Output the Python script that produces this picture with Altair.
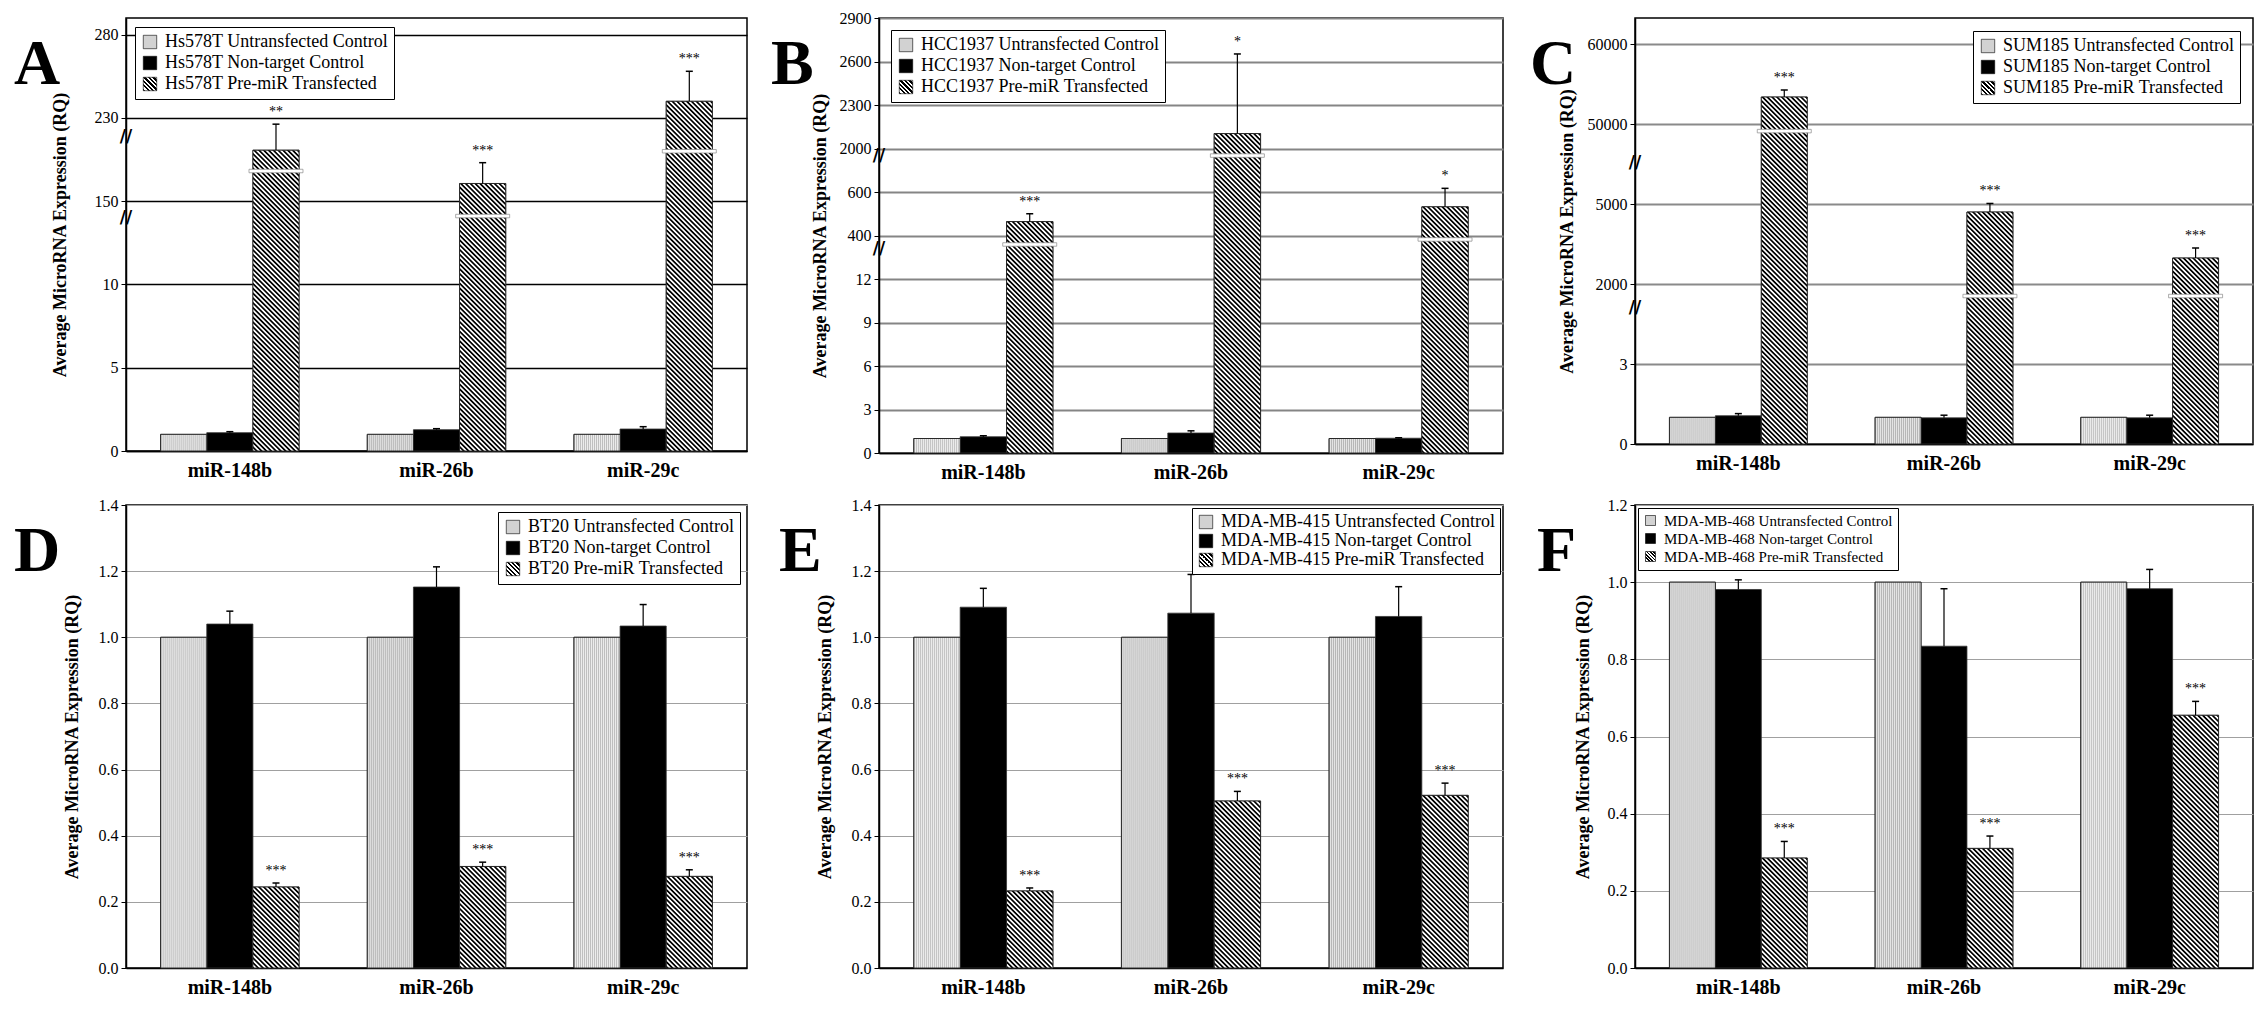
import base64
import altair as alt
import pandas as pd

SERIF = "Liberation Serif"

mirs = ["miR-148b", "miR-26b", "miR-29c"]
conditions = ["Untransfected Control", "Non-target Control", "Pre-miR Transfected"]
y_title = "Average MicroRNA Expression (RQ)"

# ---------------- Panel A : Hs578T ----------------
A_line = "Hs578T"
A_untrans = [1.0, 1.0, 1.0]
A_nontarget = [1.10, 1.28, 1.32]
A_nontarget_sd = [0.06, 0.06, 0.14]
A_premir = [199, 167, 240]
A_premir_sd = [25, 20, 18]
A_stars = ["**", "***", "***"]
A_ticks = [0, 5, 10, 150, 230, 280]
A_top = 290
A_bar_breaks = [179, 125, 198]
A_axis_breaks = [212, 121]

# ---------------- Panel B : HCC1937 ----------------
B_line = "HCC1937"
B_untrans = [1.0, 1.0, 1.0]
B_nontarget = [1.12, 1.38, 1.02]
B_nontarget_sd = [0.07, 0.15, 0.03]
B_premir = [464, 2103, 532]
B_premir_sd = [36, 549, 186]
B_stars = ["***", "*", "*"]
B_ticks = [0, 3, 6, 9, 12, 400, 600, 2000, 2300, 2600, 2900]
B_top = 2900
B_bar_breaks = [320, 1772, 365]
B_axis_breaks = [1772, 277]

# ---------------- Panel C : SUM185 ----------------
C_line = "SUM185"
C_untrans = [1.0, 1.0, 1.0]
C_nontarget = [1.06, 0.98, 0.98]
C_nontarget_sd = [0.08, 0.10, 0.10]
C_premir = [53375, 4700, 2975]
C_premir_sd = [875, 600, 375]
C_stars = ["***", "***", "***"]
C_ticks = [0, 3, 2000, 5000, 50000, 60000]
C_top = 63250
C_bar_breaks = [46000, 1700, 1700]
C_axis_breaks = [27800, 1400]

# ---------------- Panel D : BT20 ----------------
D_line = "BT20"
D_untrans = [1.0, 1.0, 1.0]
D_nontarget = [1.040, 1.152, 1.034]
D_nontarget_sd = [0.039, 0.061, 0.065]
D_premir = [0.245, 0.307, 0.277]
D_premir_sd = [0.012, 0.013, 0.020]
D_stars = ["***", "***", "***"]
D_ticks = [0.0, 0.2, 0.4, 0.6, 0.8, 1.0, 1.2, 1.4]
D_top = 1.4

# ---------------- Panel E : MDA-MB-415 ----------------
E_line = "MDA-MB-415"
E_untrans = [1.0, 1.0, 1.0]
E_nontarget = [1.091, 1.073, 1.063]
E_nontarget_sd = [0.057, 0.117, 0.090]
E_premir = [0.233, 0.505, 0.522]
E_premir_sd = [0.009, 0.029, 0.037]
E_stars = ["***", "***", "***"]
E_ticks = [0.0, 0.2, 0.4, 0.6, 0.8, 1.0, 1.2, 1.4]
E_top = 1.4

# ---------------- Panel F : MDA-MB-468 ----------------
F_line = "MDA-MB-468"
F_untrans = [1.0, 1.0, 1.0]
F_nontarget = [0.981, 0.834, 0.983]
F_nontarget_sd = [0.025, 0.149, 0.050]
F_premir = [0.285, 0.310, 0.655]
F_premir_sd = [0.043, 0.032, 0.036]
F_stars = ["***", "***", "***"]
F_ticks = [0.0, 0.2, 0.4, 0.6, 0.8, 1.0, 1.2]
F_top = 1.2

# ---------------- styles ----------------
hatch_svg = (
    "<svg xmlns='http://www.w3.org/2000/svg' width='100%' height='100%'>"
    "<defs><pattern id='h' width='3.4' height='3.4' patternUnits='userSpaceOnUse' "
    "patternTransform='rotate(-45)'>"
    "<rect width='3.4' height='3.4' fill='white'/>"
    "<rect width='1.7' height='3.4' fill='black'/></pattern></defs>"
    "<rect width='100%' height='100%' fill='url(#h)'/></svg>"
)
HATCH_URI = "data:image/svg+xml;base64," + base64.b64encode(hatch_svg.encode()).decode()

vstripe_svg = (
    "<svg xmlns='http://www.w3.org/2000/svg' width='100%' height='100%'>"
    "<defs><pattern id='v' width='2' height='2' patternUnits='userSpaceOnUse'>"
    "<rect width='2' height='2' fill='#f0f0f0'/>"
    "<rect width='1' height='2' fill='#b4b4b4'/></pattern></defs>"
    "<rect width='100%' height='100%' fill='url(#v)'/></svg>"
)
VSTRIPE_URI = "data:image/svg+xml;base64," + base64.b64encode(vstripe_svg.encode()).decode()

n_st = 6
stops = []
for k in range(n_st):
    a, b, c = k / n_st, (k + 0.5) / n_st, (k + 1) / n_st
    stops += [f"{{offset:{a:.4f},color:'black'}}", f"{{offset:{b:.4f},color:'black'}}",
              f"{{offset:{b:.4f},color:'white'}}", f"{{offset:{c:.4f},color:'white'}}"]
HATCH_EXPR = "{gradient:'linear',x1:0,y1:1,x2:1,y2:0,stops:[" + ",".join(stops) + "]}"


def make_panel(letter, line, untrans, nontarget, nontarget_sd, premir, premir_sd, stars,
               ticks, top, bar_breaks, axis_breaks, st):
    labels = [f"{line} {c}" for c in conditions]
    rows = []
    series = [(labels[0], untrans, [0, 0, 0], ["", "", ""]),
              (labels[1], nontarget, nontarget_sd, ["", "", ""]),
              (labels[2], premir, premir_sd, stars)]
    for i, m in enumerate(mirs):
        for lab, vals, sds, stt in series:
            rows.append({"mir": m, "grp": lab, "value": vals[i], "sd": sds[i],
                         "top": vals[i] + sds[i], "star": stt[i]})
    df = pd.DataFrame(rows)

    h = st["height"]
    n = len(ticks) - 1
    frac = (top - ticks[-1]) / (ticks[-1] - ticks[-2])
    step = h / (n + frac)
    dom = list(ticks) + ([top] if frac > 0 else [])
    rng = [h - k * step for k in range(len(ticks))] + ([0] if frac > 0 else [])
    yscale = alt.Scale(domain=dom, range=rng, nice=False, zero=False)

    yaxis = alt.Axis(values=list(ticks), format=st["fmt"], grid=True,
                     gridColor=st["grid"], gridWidth=st["gridw"],
                     tickColor="black", tickSize=5, tickWidth=1,
                     domainColor="black", domainWidth=1.5,
                     labelFont=SERIF, labelFontSize=16, labelColor="black",
                     labelPadding=3,
                     title=y_title, titleFont=SERIF, titleFontSize=18,
                     titleFontWeight="bold", titleColor="black",
                     titleX=st["titleX"], titleY=h / 2)

    def yenc(field):
        return alt.Y(field, stack=False, scale=yscale, axis=yaxis)

    x = alt.X("mir:N", sort=mirs,
              scale=alt.Scale(domain=mirs, paddingInner=0.33, paddingOuter=0.1675),
              axis=alt.Axis(title=None, labelAngle=0, labelFont=SERIF, labelFontSize=20,
                            labelFontWeight="bold", labelColor="black", ticks=False,
                            domainColor="black", domainWidth=1.5, labelPadding=9))
    xo = alt.XOffset("grp:N", sort=labels,
                     scale=alt.Scale(domain=labels, paddingInner=0, paddingOuter=0))

    base = alt.Chart(df)
    bars = base.mark_bar(stroke="#333333", strokeWidth=0.8).encode(
        x=x, xOffset=xo, y=yenc("value:Q"), y2=alt.datum(0),
        fill=alt.Fill("grp:N", sort=labels,
                      scale=alt.Scale(domain=labels,
                                      range=["#d2d2d2", "#000000", {"expr": HATCH_EXPR}]),
                      legend=alt.Legend(title=None, orient=st["lorient"], offset=st["loffset"],
                                        fillColor="white", strokeColor="black", padding=st["lpad"],
                                        symbolType="square", symbolSize=st["lsym"],
                                        symbolStrokeColor="black", symbolStrokeWidth=0.6,
                                        labelFont=SERIF, labelFontSize=st["lfs"],
                                        labelColor="black", rowPadding=st["lrow"],
                                        labelLimit=500, labelOffset=6)))
    premir_only = alt.datum.grp == labels[2]
    untrans_only = alt.datum.grp == labels[0]
    light = base.transform_filter(untrans_only).mark_image(aspect=False).encode(
        x=x, xOffset=xo, y=yenc("value:Q"), y2=alt.datum(0), url=alt.value(VSTRIPE_URI))
    hatch = base.transform_filter(premir_only).mark_image(aspect=False).encode(
        x=x, xOffset=xo, y=yenc("value:Q"), y2=alt.datum(0), url=alt.value(HATCH_URI))
    outline = base.transform_filter(premir_only | untrans_only).mark_bar(
        filled=False, stroke="#222222", strokeWidth=0.9).encode(
        x=x, xOffset=xo, y=yenc("value:Q"), y2=alt.datum(0))

    layers = [bars, light, hatch, outline]

    if bar_breaks:
        bdf = pd.DataFrame({"mir": mirs, "grp": [labels[2]] * 3, "value": bar_breaks})
        layers.append(alt.Chart(bdf).mark_tick(
            fill="white", stroke="#8a8a8a", strokeWidth=0.7, thickness=3.5, size=54,
            opacity=1).encode(x=x, xOffset=xo, y=yenc("value:Q")))

    err = base.transform_filter(alt.datum.sd > 0)
    layers.append(err.mark_rule(color="black", strokeWidth=1.2).encode(
        x=x, xOffset=xo, y=yenc("value:Q"), y2="top:Q"))
    layers.append(err.mark_tick(color="black", thickness=1.5, size=7, opacity=1).encode(
        x=x, xOffset=xo, y=yenc("top:Q")))
    layers.append(base.transform_filter(alt.datum.star != "").mark_text(
        baseline="bottom", dy=-5, fontSize=14, font=SERIF, color="black").encode(
        x=x, xOffset=xo, y=yenc("top:Q"), text="star:N"))

    if axis_breaks:
        adf = pd.DataFrame({"value": axis_breaks})
        layers.append(alt.Chart(adf).mark_text(
            text="//", fontSize=17, fontWeight="bold", font="DejaVu Sans",
            color="black").encode(x=alt.value(0), y=yenc("value:Q")))

    ldf = pd.DataFrame({"letter": [letter]})
    layers.append(alt.Chart(ldf).mark_text(
        align="left", baseline="alphabetic", fontSize=64, fontWeight="bold",
        font=SERIF, color="black").encode(
        x=alt.value(st["letter_x"]), y=alt.value(66), text="letter:N"))

    return alt.layer(*layers).properties(width=st["width"], height=h).resolve_scale(
        fill="shared")


top_style = dict(fmt="d", lfs=18, lsym=180, lrow=3, lpad=6)
bot_style = dict(fmt=".1f", lfs=18, lsym=180, lrow=3, lpad=6, grid="#a0a0a0", gridw=1)

stA = dict(top_style, width=621, height=433, grid="#000000", gridw=1.6, titleX=-57,
           letter_x=-112, lorient="top-left", loffset=9)
stB = dict(top_style, width=624, height=435, grid="#858585", gridw=2, titleX=-50,
           letter_x=-108, lorient="top-left", loffset=12)
stC = dict(top_style, width=618, height=426, grid="#8a8a8a", gridw=2, titleX=-59,
           letter_x=-105, lorient="top-right", loffset=13)
stD = dict(bot_style, width=621, height=463, titleX=-45,
           letter_x=-112, lorient="top-right", loffset=7)
stE = dict(bot_style, width=624, height=463, titleX=-45,
           letter_x=-100, lorient="top-right", loffset=3, lrow=1, lpad=5)
stF = dict(bot_style, width=618, height=463, titleX=-43,
           letter_x=-98, lorient="top-left", loffset=3, lfs=15, lsym=100, lrow=2, lpad=5)

pA = make_panel("A", A_line, A_untrans, A_nontarget, A_nontarget_sd, A_premir, A_premir_sd,
                A_stars, A_ticks, A_top, A_bar_breaks, A_axis_breaks, stA)
pB = make_panel("B", B_line, B_untrans, B_nontarget, B_nontarget_sd, B_premir, B_premir_sd,
                B_stars, B_ticks, B_top, B_bar_breaks, B_axis_breaks, stB)
pC = make_panel("C", C_line, C_untrans, C_nontarget, C_nontarget_sd, C_premir, C_premir_sd,
                C_stars, C_ticks, C_top, C_bar_breaks, C_axis_breaks, stC)
pD = make_panel("D", D_line, D_untrans, D_nontarget, D_nontarget_sd, D_premir, D_premir_sd,
                D_stars, D_ticks, D_top, [], [], stD)
pE = make_panel("E", E_line, E_untrans, E_nontarget, E_nontarget_sd, E_premir, E_premir_sd,
                E_stars, E_ticks, E_top, [], [], stE)
pF = make_panel("F", F_line, F_untrans, F_nontarget, F_nontarget_sd, F_premir, F_premir_sd,
                F_stars, F_ticks, F_top, [], [], stF)

indep = dict(x="independent", y="independent", xOffset="independent", fill="independent")

chart = alt.concat(pA, pB, pC, pD, pE, pF, columns=3,
                   spacing={"row": 52, "column": 132}, bounds="flush").resolve_scale(
    **indep).resolve_legend(fill="independent").properties(
    padding={"left": 5, "top": 1, "right": 5, "bottom": 0}, background="white"
).configure_view(stroke="black", strokeWidth=1.5)

chart.save("out.html", embed_options={"renderer": "svg", "actions": False})
